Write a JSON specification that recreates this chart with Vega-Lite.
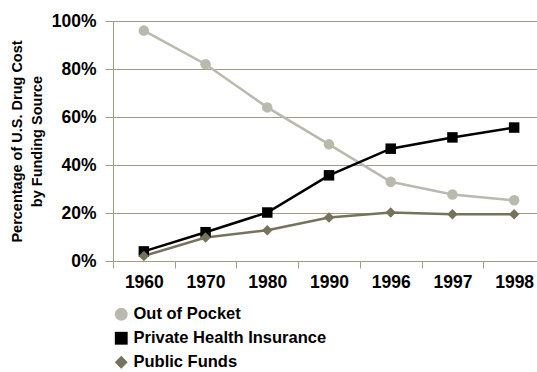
{
  "$schema": "https://vega.github.io/schema/vega-lite/v6.json",
  "width": 424,
  "height": 240,
  "autosize": {"type": "none"},
  "padding": {"left": 113, "top": 21, "right": 0, "bottom": 111},
  "background": "white",
  "config": {
    "view": {"stroke": null},
    "font": "Liberation Sans",
    "legend": {"labelFontWeight": 700, "labelFont": "Liberation Sans"}
  },
  "data": {
    "values": [
      {"year": "1960", "source": "Out of Pocket", "pct": 96},
      {"year": "1970", "source": "Out of Pocket", "pct": 82},
      {"year": "1980", "source": "Out of Pocket", "pct": 64},
      {"year": "1990", "source": "Out of Pocket", "pct": 48.6},
      {"year": "1996", "source": "Out of Pocket", "pct": 33},
      {"year": "1997", "source": "Out of Pocket", "pct": 27.7},
      {"year": "1998", "source": "Out of Pocket", "pct": 25.3},
      {"year": "1960", "source": "Private Health Insurance", "pct": 4},
      {"year": "1970", "source": "Private Health Insurance", "pct": 12},
      {"year": "1980", "source": "Private Health Insurance", "pct": 20.2},
      {"year": "1990", "source": "Private Health Insurance", "pct": 35.7},
      {"year": "1996", "source": "Private Health Insurance", "pct": 46.8},
      {"year": "1997", "source": "Private Health Insurance", "pct": 51.5},
      {"year": "1998", "source": "Private Health Insurance", "pct": 55.6},
      {"year": "1960", "source": "Public Funds", "pct": 2.1},
      {"year": "1970", "source": "Public Funds", "pct": 9.8},
      {"year": "1980", "source": "Public Funds", "pct": 12.8},
      {"year": "1990", "source": "Public Funds", "pct": 18.1},
      {"year": "1996", "source": "Public Funds", "pct": 20.2},
      {"year": "1997", "source": "Public Funds", "pct": 19.5},
      {"year": "1998", "source": "Public Funds", "pct": 19.5}
    ]
  },
  "encoding": {
    "x": {
      "field": "year",
      "type": "ordinal",
      "scale": {"type": "band", "paddingInner": 0, "paddingOuter": 0, "range": [0, 432]},
      "axis": {
        "title": null,
        "labelAngle": 0,
        "labelFont": "Liberation Sans",
        "labelFontSize": 17.5,
        "labelFontWeight": "bold",
        "labelColor": "black",
        "labelPadding": 5,
        "tickBand": "extent",
        "tickSize": 7,
        "tickColor": "#a09d86",
        "domainColor": "#a09d86",
        "grid": false
      }
    },
    "y": {
      "field": "pct",
      "type": "quantitative",
      "scale": {"domain": [0, 100], "nice": false},
      "axis": {
        "values": [0, 20, 40, 60, 80, 100],
        "labelExpr": "datum.value + '%'",
        "labelFont": "Liberation Sans",
        "labelFontSize": 17.5,
        "labelFontWeight": "bold",
        "labelColor": "black",
        "labelPadding": 9,
        "tickSize": 8,
        "tickColor": "#a09d86",
        "domainColor": "#a09d86",
        "gridColor": "#a09d86",
        "grid": true,
        "title": ["Percentage of U.S. Drug Cost", "by Funding Source"],
        "titleFont": "Liberation Sans",
        "titleFontSize": 14.5,
        "titleFontWeight": "bold",
        "titleColor": "black",
        "titleLineHeight": 20,
        "titleX": -96,
        "titleY": 120,
        "titleAngle": -90,
        "titleAlign": "center",
        "titleBaseline": "middle"
      }
    },
    "color": {
      "field": "source",
      "type": "nominal",
      "scale": {
        "domain": ["Out of Pocket", "Private Health Insurance", "Public Funds"],
        "range": ["#b9b9ad", "#000000", "#75735c"]
      },
      "legend": {
        "title": null,
        "orient": "none",
        "legendX": 0,
        "legendY": 285,
        "direction": "vertical",
        "symbolSize": 165,
        "symbolStrokeWidth": 0,
        "labelFont": "Liberation Sans",
        "labelFontSize": 16.5,
        "labelFontWeight": 700,
        "labelColor": "black",
        "labelOffset": 4,
        "rowPadding": 7,
        "labelLimit": 400
      }
    }
  },
  "layer": [
    {
      "mark": {"type": "line", "strokeWidth": 2.5}
    },
    {
      "mark": {"type": "point", "filled": true, "opacity": 1, "size": 110},
      "encoding": {
        "shape": {
          "field": "source",
          "type": "nominal",
          "scale": {
            "domain": ["Out of Pocket", "Private Health Insurance", "Public Funds"],
            "range": ["circle", "square", "diamond"]
          },
          "legend": {
            "title": null,
            "orient": "none",
            "legendX": 0,
            "legendY": 285,
            "direction": "vertical",
            "symbolSize": 165,
            "symbolStrokeWidth": 0,
            "labelFont": "Liberation Sans",
            "labelFontSize": 16.5,
            "labelFontWeight": 700,
            "labelColor": "black",
            "labelOffset": 4,
            "rowPadding": 7,
            "labelLimit": 400
          }
        }
      }
    }
  ]
}
